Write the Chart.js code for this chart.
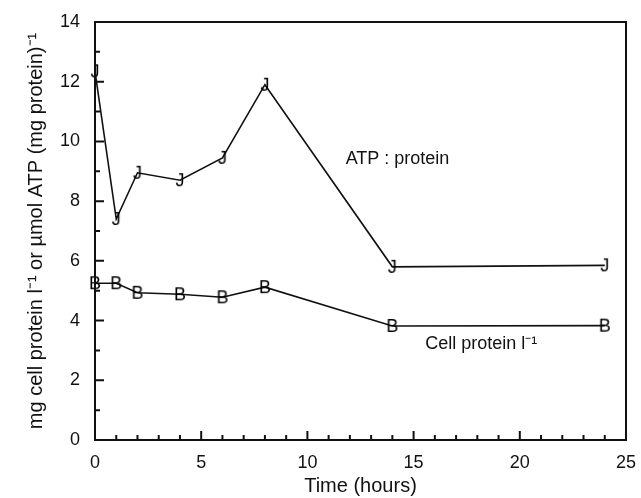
<!DOCTYPE html>
<html>
<head>
<meta charset="utf-8">
<script src="https://cdn.jsdelivr.net/npm/chart.js@4/dist/chart.umd.min.js"></script>
<style>
  html, body { margin: 0; padding: 0; background: #fff; }
  #wrap { width: 641px; height: 498px; }
</style>
</head>
<body>
<div id="wrap"><canvas id="c" width="641" height="498"></canvas></div>
<script>
// time points (hours)
const hours = [0, 1, 2, 4, 6, 8, 14, 24];
// ATP : protein, umol ATP (mg protein)-1
const atpProtein = [12.35, 7.4, 8.95, 8.7, 9.45, 11.9, 5.8, 5.85];
// cell protein, mg l-1
const cellProtein = [5.25, 5.25, 4.93, 4.88, 4.78, 5.12, 3.82, 3.83];

const xTicks = [0, 5, 10, 15, 20, 25];
const yTicks = [0, 2, 4, 6, 8, 10, 12, 14];

const FONT = '"Liberation Sans", Arial, sans-serif';

// letter markers like the old plotting program used
function letterMarker(ch) {
  const cv = document.createElement('canvas');
  cv.width = 18; cv.height = 20;
  const g = cv.getContext('2d');
  g.fillStyle = '#000';
  g.font = '18px ' + FONT;
  g.textAlign = 'center';
  g.textBaseline = 'middle';
  g.fillText(ch, 9, 11);
  return cv;
}

const frameTicks = {
  id: 'frameTicks',
  afterDraw(chart) {
    const ctx = chart.ctx;
    const a = chart.chartArea;
    const xs = chart.scales.x, ys = chart.scales.y;
    ctx.save();
    ctx.strokeStyle = '#111';
    ctx.lineWidth = 2;
    ctx.strokeRect(a.left, a.top, a.right - a.left, a.bottom - a.top);
    ctx.beginPath();
    for (let v = 1; v < 25; v++) {
      const px = xs.getPixelForValue(v);
      const len = v % 5 === 0 ? 9 : 5;
      ctx.moveTo(px, a.bottom);
      ctx.lineTo(px, a.bottom - len);
    }
    for (let v = 1; v < 14; v++) {
      const py = ys.getPixelForValue(v);
      const len = v % 2 === 0 ? 9 : 5;
      ctx.moveTo(a.left, py);
      ctx.lineTo(a.left + len, py);
    }
    ctx.stroke();

    // series labels
    ctx.fillStyle = '#111';
    ctx.font = '18px ' + FONT;
    ctx.textBaseline = 'middle';
    ctx.textAlign = 'left';
    ctx.fillText('ATP : protein', xs.getPixelForValue(11.8), ys.getPixelForValue(9.4));
    ctx.fillText('Cell protein l\u207B\u00B9', xs.getPixelForValue(15.55), ys.getPixelForValue(3.2));
    ctx.restore();
  }
};

new Chart(document.getElementById('c'), {
  type: 'line',
  data: {
    datasets: [
      {
        label: 'ATP : protein',
        data: hours.map((h, i) => ({ x: h, y: atpProtein[i] })),
        borderColor: '#111',
        borderWidth: 1.6,
        pointStyle: letterMarker('J'),
        clip: false,
        tension: 0
      },
      {
        label: 'Cell protein',
        data: hours.map((h, i) => ({ x: h, y: cellProtein[i] })),
        borderColor: '#111',
        borderWidth: 1.6,
        pointStyle: letterMarker('B'),
        clip: false,
        tension: 0
      }
    ]
  },
  options: {
    responsive: false,
    animation: false,
    layout: { padding: { top: 22, right: 15, left: 0, bottom: 0 } },
    plugins: { legend: { display: false }, tooltip: { enabled: false } },
    scales: {
      x: {
        type: 'linear',
        min: 0, max: 25,
        afterBuildTicks: s => { s.ticks = xTicks.map(v => ({ value: v })); },
        afterFit: s => { s.height = 58; },
        grid: { display: false },
        border: { display: false },
        ticks: { color: '#111', font: { family: FONT, size: 18 }, padding: 4, maxRotation: 0 },
        title: { display: true, text: 'Time (hours)', color: '#111', font: { family: FONT, size: 20 }, padding: { top: 0, bottom: 0 } }
      },
      y: {
        min: 0, max: 14,
        afterBuildTicks: s => { s.ticks = yTicks.map(v => ({ value: v })); },
        afterFit: s => { s.width = 95; },
        grid: { display: false },
        border: { display: false },
        ticks: { color: '#111', font: { family: FONT, size: 18 }, padding: 7 },
        title: {
          display: true,
          text: 'mg cell protein l\u207B\u00B9 or \u00B5mol ATP (mg protein)\u207B\u00B9',
          color: '#111', font: { family: FONT, size: 20 }, padding: { top: 24, bottom: 0 }
        }
      }
    }
  },
  plugins: [frameTicks]
});
</script>
</body>
</html>
